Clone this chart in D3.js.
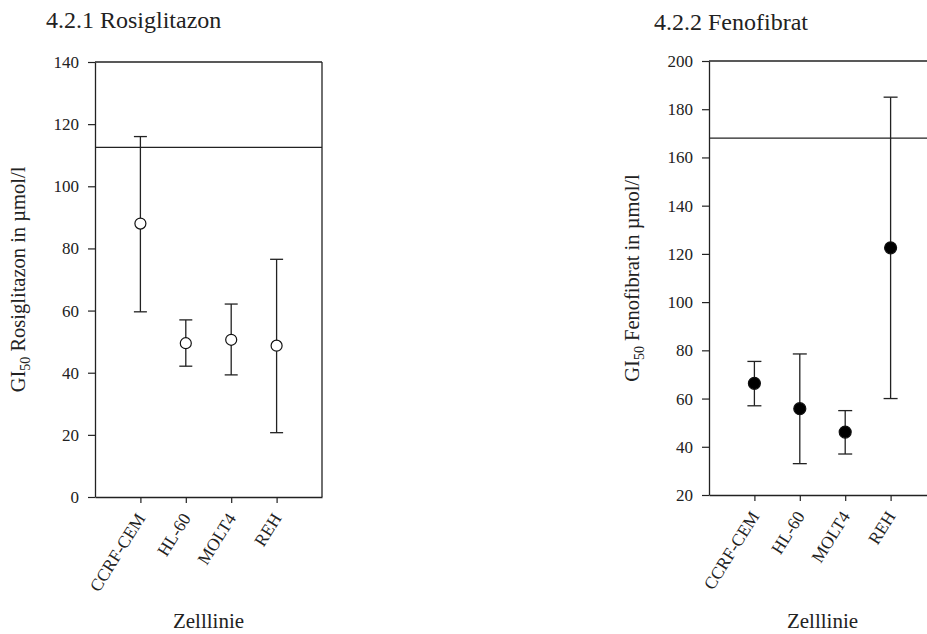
<!DOCTYPE html>
<html>
<head>
<meta charset="utf-8">
<script src="https://cdn.jsdelivr.net/npm/d3@7/dist/d3.min.js"></script>
<style>
  html, body { margin: 0; padding: 0; background: #fff; }
</style>
</head>
<body>
<svg id="chart" width="927" height="634"></svg>
<script>
// ---- data ----
const cellLines = ["CCRF-CEM", "HL-60", "MOLT4", "REH"];

const rosiMean  = [88, 49.5, 50.6, 48.7];
const rosiUpper = [116, 57, 62.1, 76.5];
const rosiLower = [59.6, 42.1, 39.3, 20.7];
const rosiRef   = 112.5;
const rosiTicks = [0, 20, 40, 60, 80, 100, 120, 140];

const fenoMean  = [66.3, 55.8, 46.1, 122.5];
const fenoUpper = [75.4, 78.5, 55, 185];
const fenoLower = [57, 33, 37, 60];
const fenoRef   = 168;
const fenoTicks = [20, 40, 60, 80, 100, 120, 140, 160, 180, 200];

const titles  = ["4.2.1 Rosiglitazon", "4.2.2 Fenofibrat"];
const drugs   = ["Rosiglitazon", "Fenofibrat"];
const xTitle  = "Zelllinie";

// ---- drawing ----
const FONT = "'Liberation Serif', 'Times New Roman', Times, serif";
const svg = d3.select("#chart");
const ink = "#222";

function panel(cfg) {
  const g = svg.append("g").style("font-family", FONT);
  const x = d3.scalePoint().domain(cellLines).range([cfg.left, cfg.right]).padding(1);
  const y = d3.scaleLinear().domain(cfg.domain).range([cfg.bottom, cfg.top]);

  // title
  g.append("text").attr("x", cfg.titleX).attr("y", cfg.titleY)
    .style("font-family", FONT).style("font-size", "24px").attr("fill", ink).text(cfg.title);

  // frame (top + right)
  g.append("line").attr("x1", cfg.left).attr("x2", cfg.right)
    .attr("y1", cfg.top).attr("y2", cfg.top).attr("stroke", ink).attr("stroke-width", 1.3);
  g.append("line").attr("x1", cfg.right).attr("x2", cfg.right)
    .attr("y1", cfg.top).attr("y2", cfg.bottom).attr("stroke", ink).attr("stroke-width", 1.3);

  // y axis
  const ya = g.append("g").attr("transform", `translate(${cfg.left},0)`)
    .call(d3.axisLeft(y).tickValues(cfg.ticks).tickSize(7).tickPadding(9).tickSizeOuter(0));
  ya.select(".domain").attr("stroke", ink).attr("stroke-width", 1.3);
  ya.selectAll(".tick line").attr("stroke", ink).attr("stroke-width", 1.2);
  ya.selectAll(".tick text").style("font-family", FONT).style("font-size", "17px").attr("fill", ink);

  // x axis
  const xa = g.append("g").attr("transform", `translate(0,${cfg.bottom})`)
    .call(d3.axisBottom(x).tickSize(6).tickSizeOuter(0));
  xa.select(".domain").attr("stroke", ink).attr("stroke-width", 1.3);
  xa.selectAll(".tick line").attr("stroke", ink).attr("stroke-width", 1.2);
  xa.selectAll(".tick text")
    .style("font-family", FONT).style("font-size", "17.5px").attr("fill", ink)
    .attr("text-anchor", "end")
    .attr("x", 0).attr("y", 0).attr("dy", null)
    .attr("transform", "translate(5,21) rotate(-58)");

  // reference line
  g.append("line").attr("x1", cfg.left).attr("x2", cfg.right)
    .attr("y1", y(cfg.ref)).attr("y2", y(cfg.ref))
    .attr("stroke", ink).attr("stroke-width", 1.2);

  // error bars
  const rows = cellLines.map((c, i) => ({ c, m: cfg.mean[i], lo: cfg.lower[i], hi: cfg.upper[i] }));
  const eb = g.append("g").attr("stroke", ink).attr("stroke-width", 1.3);
  eb.selectAll("line.v").data(rows).join("line").attr("class", "v")
    .attr("x1", d => x(d.c)).attr("x2", d => x(d.c))
    .attr("y1", d => y(d.lo)).attr("y2", d => y(d.hi));
  eb.selectAll("line.t").data(rows).join("line").attr("class", "t")
    .attr("x1", d => x(d.c) - cfg.cap).attr("x2", d => x(d.c) + cfg.cap)
    .attr("y1", d => y(d.hi)).attr("y2", d => y(d.hi));
  eb.selectAll("line.b").data(rows).join("line").attr("class", "b")
    .attr("x1", d => x(d.c) - cfg.cap).attr("x2", d => x(d.c) + cfg.cap)
    .attr("y1", d => y(d.lo)).attr("y2", d => y(d.lo));

  g.selectAll("circle").data(rows).join("circle")
    .attr("cx", d => x(d.c)).attr("cy", d => y(d.m)).attr("r", cfg.r)
    .attr("fill", cfg.fill).attr("stroke", "#111").attr("stroke-width", 1.2);

  // y title
  const yt = g.append("text")
    .attr("transform", `translate(${cfg.yTitleX},${(cfg.top + cfg.bottom) / 2}) rotate(-90)`)
    .style("font-family", FONT).style("font-size", "20.5px")
    .attr("text-anchor", "middle").attr("fill", ink);
  yt.append("tspan").text("GI");
  yt.append("tspan").style("font-size", "14px").attr("dy", 5).text("50");
  yt.append("tspan").attr("dy", -5).text(" " + cfg.drug + " in µmol/l");

  // x title
  g.append("text").attr("x", (cfg.left + cfg.right) / 2).attr("y", 628)
    .style("font-family", FONT).style("font-size", "21px")
    .attr("text-anchor", "middle").attr("fill", ink).text(xTitle);
}

panel({
  left: 95, right: 322, top: 62, bottom: 497,
  domain: [0, 140], ticks: rosiTicks,
  mean: rosiMean, upper: rosiUpper, lower: rosiLower, ref: rosiRef,
  title: titles[0], titleX: 46, titleY: 28, drug: drugs[0],
  yTitleX: 25, r: 5.5, fill: "#fff", cap: 6.5
});

panel({
  left: 709, right: 936, top: 61, bottom: 495,
  domain: [20, 200], ticks: fenoTicks,
  mean: fenoMean, upper: fenoUpper, lower: fenoLower, ref: fenoRef,
  title: titles[1], titleX: 654, titleY: 30, drug: drugs[1],
  yTitleX: 639, r: 6, fill: "#000", cap: 7
});
</script>
</body>
</html>
